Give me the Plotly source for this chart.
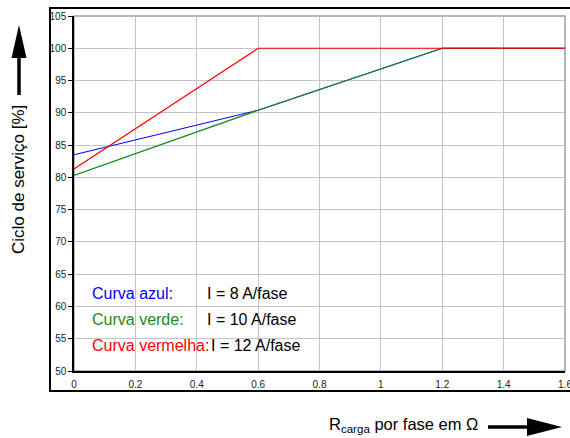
import plotly.graph_objects as go

# Data
x_blue = [0, 0.6, 1.2, 1.6]
y_blue = [83.5, 90.4, 100, 100]
x_green = [0, 0.6, 1.2, 1.6]
y_green = [80.3, 90.4, 100, 100]
x_red = [0, 0.6, 1.6]
y_red = [81.3, 100, 100]

x_ticks = [0, 0.2, 0.4, 0.6, 0.8, 1, 1.2, 1.4, 1.6]
x_ticklabels = ["0", "0.2", "0.4", "0.6", "0.8", "1", "1.2", "1.4", "1.6"]
y_ticks = [50, 55, 60, 65, 70, 75, 80, 85, 90, 95, 100, 105]

labels = ["Curva azul:", "Curva verde:", "Curva vermelha:"]
label_values = ["I = 8 A/fase", "I = 10 A/fase", "I = 12 A/fase"]
label_colors = ["#0000ff", "#1a8c1a", "#ff0000"]

W, H = 570, 438
L, R, T, B = 74, 5, 16, 67
PW, PH = W - L - R, H - T - B

def px(x):
    return (x - L) / PW

def py(y):
    return (H - B - y) / PH

FONT = "Liberation Sans, Arial, sans-serif"

fig = go.Figure()
fig.add_trace(go.Scatter(x=x_blue, y=y_blue, mode="lines",
                         line=dict(color="#0000ff", width=1.2), hoverinfo="skip"))
fig.add_trace(go.Scatter(x=x_green, y=y_green, mode="lines",
                         line=dict(color="#1a8c1a", width=1.2), hoverinfo="skip"))
fig.add_trace(go.Scatter(x=x_red, y=y_red, mode="lines",
                         line=dict(color="#ff0000", width=1.2), hoverinfo="skip"))

annotations = []
row_y = [62, 58, 53.9]
val_x = [0.427, 0.427, 0.4405]
for i in range(3):
    annotations.append(dict(x=0.052, y=row_y[i], xref="x", yref="y", text=labels[i],
                            showarrow=False, xanchor="left", yanchor="middle",
                            font=dict(family=FONT, size=16, color=label_colors[i])))
    annotations.append(dict(x=val_x[i], y=row_y[i], xref="x", yref="y", text=label_values[i],
                            showarrow=False, xanchor="left", yanchor="middle",
                            font=dict(family=FONT, size=16, color="#000000")))

annotations.append(dict(x=px(18), y=py(180), xref="paper", yref="paper",
                        text="Ciclo de serviço [%]", textangle=-90, showarrow=False,
                        xanchor="center", yanchor="middle",
                        font=dict(family=FONT, size=17, color="#000000")))
annotations.append(dict(x=px(327), y=py(425), xref="paper", yref="paper",
                        text="R<sub>carga</sub> por fase em Ω", showarrow=False,
                        xanchor="left", yanchor="middle",
                        font=dict(family=FONT, size=16.5, color="#000000")))

shapes = [
    # outer frame
    dict(type="rect", xref="paper", yref="paper", x0=px(50), y0=py(391), x1=px(600), y1=py(8),
         line=dict(color="#000000", width=2), layer="below"),
    # plot area border (gray)
    dict(type="rect", xref="paper", yref="paper", x0=0, y0=0, x1=1, y1=1,
         line=dict(color="#a0a0a0", width=1.5), layer="below"),
    # up arrow shaft
    dict(type="line", xref="paper", yref="paper", x0=px(19), y0=py(95), x1=px(19), y1=py(55),
         line=dict(color="#000000", width=3.5)),
    # up arrow head
    dict(type="path", xref="paper", yref="paper",
         path=f"M {px(19)} {py(25)} L {px(11.5)} {py(58)} L {px(26.5)} {py(58)} Z",
         fillcolor="#000000", line=dict(color="#000000", width=0)),
    # right arrow shaft
    dict(type="line", xref="paper", yref="paper", x0=px(488), y0=py(427), x1=px(530), y1=py(427),
         line=dict(color="#000000", width=3.5)),
    # right arrow head
    dict(type="path", xref="paper", yref="paper",
         path=f"M {px(562)} {py(427)} L {px(527)} {py(418)} L {px(527)} {py(436)} Z",
         fillcolor="#000000", line=dict(color="#000000", width=0)),
]

fig.update_layout(
    width=W, height=H,
    margin=dict(l=L, r=R, t=T, b=B),
    paper_bgcolor="white", plot_bgcolor="white",
    showlegend=False,
    annotations=annotations,
    shapes=shapes,
    xaxis=dict(range=[0, 1.6], tickvals=x_ticks, ticktext=x_ticklabels,
               showgrid=True, gridcolor="#c4c4c4", gridwidth=1,
               showline=True, linecolor="#000000", linewidth=1.5,
               ticks="", ticklabelstandoff=3, zeroline=False,
               ticklabeloverflow="allow", automargin=False,
               tickfont=dict(family=FONT, size=10, color="#222222")),
    yaxis=dict(range=[50, 105], tickvals=y_ticks,
               showgrid=True, gridcolor="#c4c4c4", gridwidth=1,
               showline=True, linecolor="#000000", linewidth=1.5,
               ticks="outside", ticklen=4, tickcolor="#000000", zeroline=False,
               automargin=False,
               tickfont=dict(family=FONT, size=10, color="#222222")),
)

fig.write_html("out.html")
